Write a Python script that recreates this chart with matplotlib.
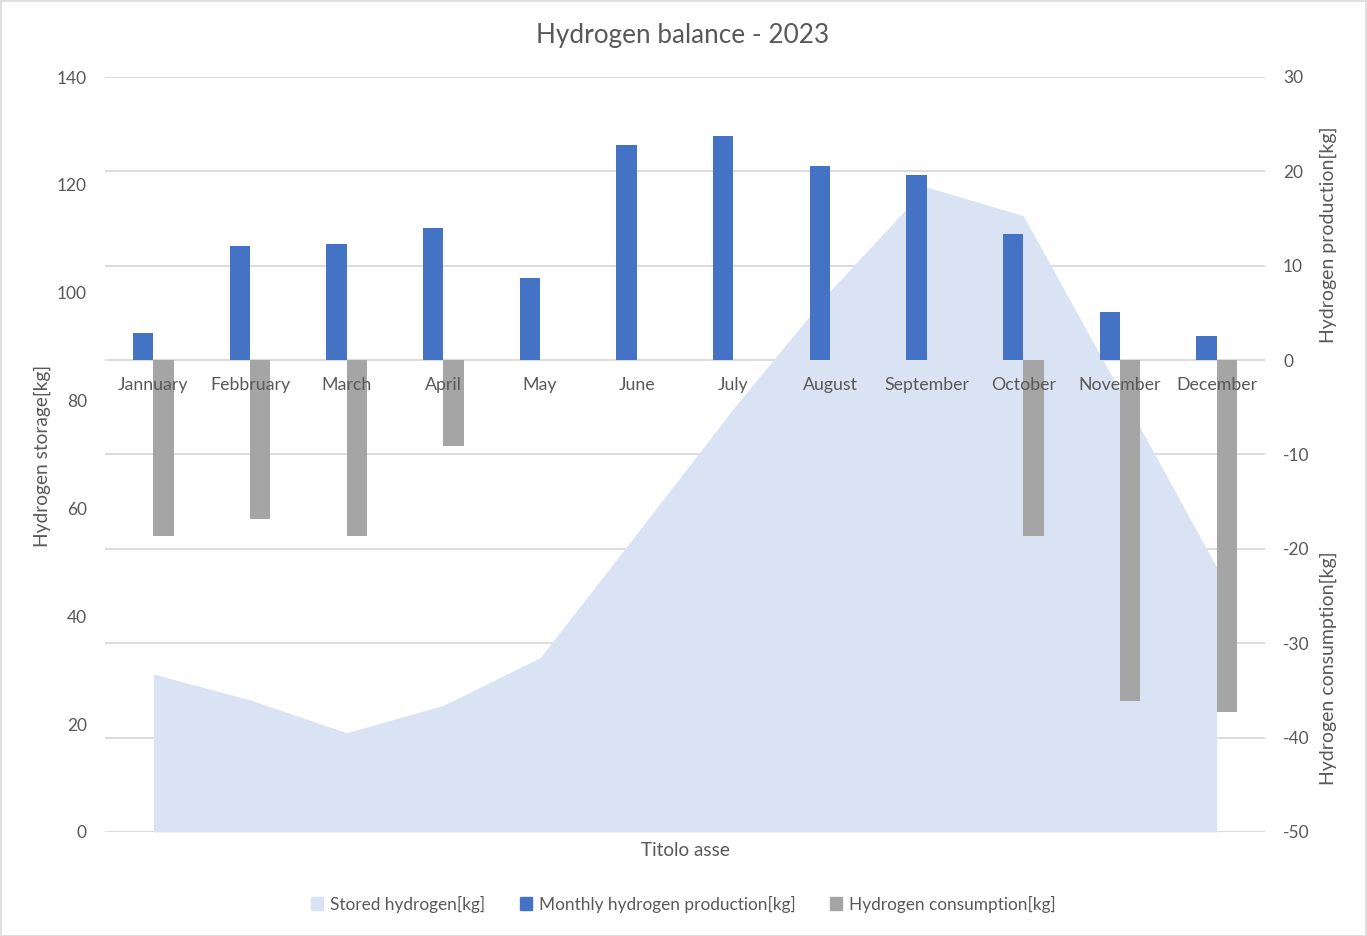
import numpy as np
import matplotlib
matplotlib.use('Agg')
import matplotlib.pyplot as plt
from matplotlib.patches import Rectangle, Patch

plt.rcParams['font.family'] = ['Lato', 'DejaVu Sans']
plt.rcParams['axes.unicode_minus'] = False

months = ['Jannuary', 'Febbruary', 'March', 'April', 'May', 'June', 'July',
          'August', 'September', 'October', 'November', 'December']
stored = [29.3, 24.5, 18.4, 23.5, 32.3, 55.3, 78.5, 100.3, 119.6, 114.3,
          81.8, 49.1]
production = [2.9, 12.1, 12.3, 14.0, 8.7, 22.8, 23.8, 20.6, 19.6, 13.4,
              5.1, 2.6]
consumption = [-18.6, -16.8, -18.6, -9.1, 0, 0, 0, 0, 0, -18.6, -36.1,
               -37.3]

left_ticks = np.arange(0, 141, 20)
right_ticks = np.arange(-50, 31, 10)

c_area = '#dae3f3'
c_prod = '#4472c4'
c_cons = '#a5a5a5'
c_text = '#595959'
c_grid = '#d9d9d9'

W, H = 1367, 936
fig = plt.figure(figsize=(W / 100, H / 100), dpi=100)
fig.patches.append(Rectangle((0.5 / W, 0.5 / H), 1 - 1.5 / W, 1 - 1.5 / H,
                             transform=fig.transFigure, fill=False,
                             edgecolor=c_grid, linewidth=1.2))

rect = [105 / W, 1 - 832 / H, 1160 / W, 755 / H]
x = np.arange(len(months))

# gridlines sit behind everything (right axis scale)
ax_grid = fig.add_axes(rect)
ax_grid.set_xlim(-0.5, 11.5)
ax_grid.set_ylim(-50, 30)
ax_grid.set_yticks(right_ticks)
ax_grid.grid(axis='y', color=c_grid, linewidth=1.3)
ax_grid.tick_params(left=False, bottom=False, labelleft=False,
                    labelbottom=False)
for s in ax_grid.spines.values():
    s.set_visible(False)

# stored hydrogen area on left axis
ax = fig.add_axes(rect, facecolor='none')
ax.fill_between(x, stored, 0, color=c_area, linewidth=0)
ax.set_xlim(-0.5, 11.5)
ax.set_ylim(0, 140)
ax.set_yticks(left_ticks)
ax.tick_params(axis='y', length=0, pad=13, labelsize=12.5, labelcolor=c_text)
ax.tick_params(axis='x', bottom=False, labelbottom=False)
for s in ax.spines.values():
    s.set_visible(False)

# production / consumption bars on right axis
ax2 = ax.twinx()
w = 0.21
ax2.bar(x - w / 2, production, width=w, color=c_prod)
ax2.bar(x + w / 2, consumption, width=w, color=c_cons)
ax2.set_ylim(-50, 30)
ax2.set_yticks(right_ticks)
ax2.tick_params(axis='y', length=0, pad=13, labelsize=12.5, labelcolor=c_text)
for s in ax2.spines.values():
    s.set_visible(False)

for i, m in enumerate(months):
    ax2.text(i, -2.65, m, ha='center', va='center', fontsize=12.8,
             color=c_text)

fig.text(683 / W, 1 - 35 / H, 'Hydrogen balance - 2023', ha='center',
         va='center', fontsize=18.8, color=c_text)
fig.text(685 / W, 1 - 850 / H, 'Titolo asse', ha='center', va='center',
         fontsize=13.6, color=c_text)
fig.text(42 / W, 1 - 456 / H, 'Hydrogen storage[kg]', ha='center',
         va='center', rotation=90, fontsize=13.8, color=c_text)
fig.text(1328 / W, 1 - 235 / H, 'Hydrogen production[kg]', ha='center',
         va='center', rotation=90, fontsize=14, color=c_text)
fig.text(1328 / W, 1 - 668 / H, 'Hydrogen consumption[kg]', ha='center',
         va='center', rotation=90, fontsize=14, color=c_text)

handles = [Patch(color=c_area), Patch(color=c_prod), Patch(color=c_cons)]
labels = ['Stored hydrogen[kg]', 'Monthly hydrogen production[kg]',
          'Hydrogen consumption[kg]']
leg = fig.legend(handles, labels, loc='center', ncol=3,
                 bbox_to_anchor=(0.5, 1 - 904 / H), frameon=False,
                 fontsize=12.4, handlelength=0.7, handleheight=0.7,
                 handletextpad=0.4, columnspacing=2.0)
for t in leg.get_texts():
    t.set_color(c_text)

fig.savefig('out.png', dpi=100)
